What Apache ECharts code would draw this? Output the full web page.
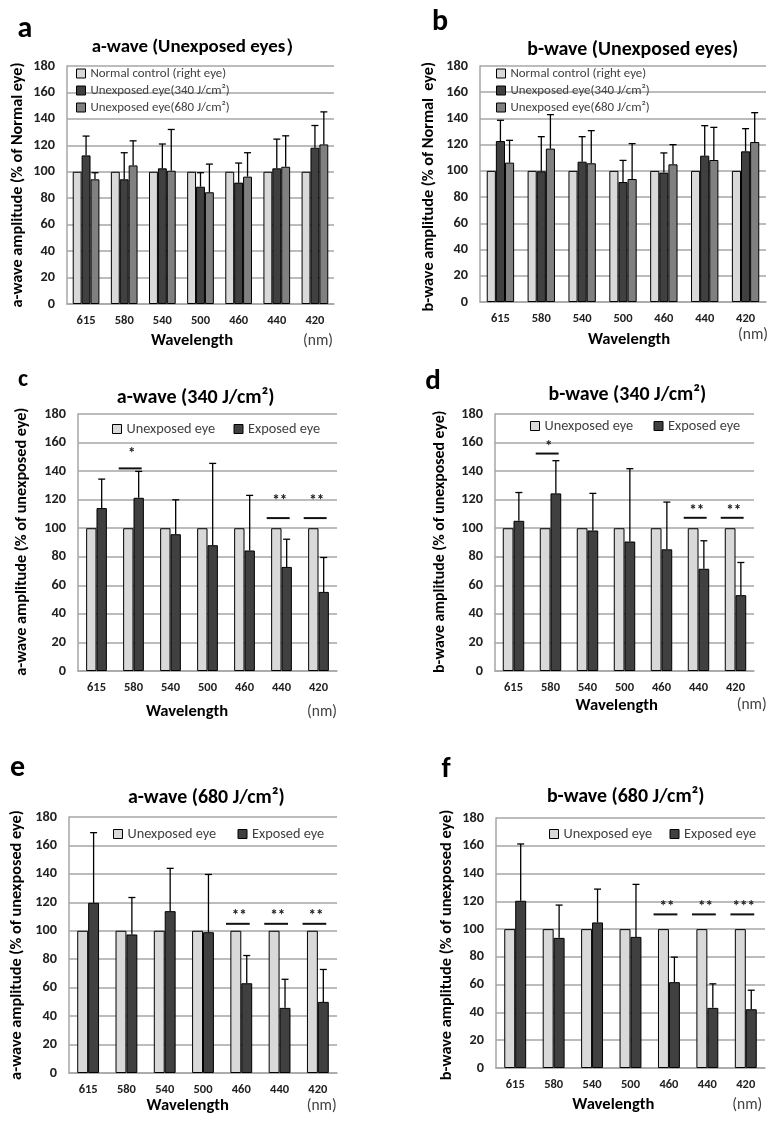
<!DOCTYPE html>
<html><head><meta charset="utf-8">
<script src="https://cdn.jsdelivr.net/npm/echarts@6/dist/echarts.min.js"></script>
<style>html,body{margin:0;padding:0;background:#fff}#c{width:781px;height:1126px}</style>
</head><body><div id="c"></div>
<script>
// ---------- DATA ----------
const categories = ['615','580','540','500','460','440','420'];
const yMin = 0, yMax = 180, yStep = 20;

// panel a : a-wave, unexposed eyes (% of normal eye)
const aNormal   = [100,100,100,100,100,100,100];
const a340      = [112.4, 94.3, 102.6, 88.7, 91.8, 102.6, 118.2];
const a340Sd    = [14.6, 20.1, 18.4, 10.6, 14.8, 22.1, 16.8];
const a680      = [94.3, 104.8, 100.8, 84.5, 96.3, 103.8, 120.7];
const a680Sd    = [5.0, 18.6, 31.2, 21.3, 18.1, 23.4, 24.6];

// panel b : b-wave, unexposed eyes
const bNormal   = [100,100,100,100,100,100,100];
const b340      = [122.8, 99.7, 107.0, 91.5, 98.7, 111.6, 114.9];
const b340Sd    = [15.8, 26.4, 19.1, 16.5, 15.0, 22.9, 17.3];
const b680      = [106.3, 117.0, 105.8, 93.8, 105.0, 108.3, 122.0];
const b680Sd    = [17.0, 25.9, 24.9, 27.0, 15.0, 24.9, 22.4];

// panel c : a-wave 340 J/cm2
const cUnexp    = [100,100,100,100,100,100,100];
const cExp      = [114.1, 121.3, 95.8, 88.1, 84.4, 72.9, 55.4];
const cExpSd    = [20.3, 18.5, 24.1, 57.3, 38.6, 19.4, 24.1];
const cSig      = [[1, 141.9, 152, '*'], [5, 107.1, 118.7, '**'], [6, 107.1, 118.7, '**']];

// panel d : b-wave 340 J/cm2
const dUnexp    = [100,100,100,100,100,100,100];
const dExp      = [105.2, 124.4, 98.4, 90.7, 85.2, 71.6, 53.1];
const dExpSd    = [19.8, 22.9, 26.0, 51.0, 33.1, 19.6, 22.9];
const dSig      = [[1, 152.3, 157, '*'], [5, 107.3, 112, '**'], [6, 107.3, 112, '**']];

// panel e : a-wave 680 J/cm2
const eUnexp    = [100,100,100,100,100,100,100];
const eExp      = [119.7, 97.4, 113.8, 99.0, 63.1, 45.8, 50.0];
const eExpSd    = [49.3, 26.0, 30.1, 40.6, 19.5, 20.1, 22.8];
const eSig      = [[4, 104.9, 110, '**'], [5, 104.9, 110, '**'], [6, 104.9, 110, '**']];

// panel f : b-wave 680 J/cm2
const fUnexp    = [100,100,100,100,100,100,100];
const fExp      = [120.4, 93.7, 104.8, 94.4, 61.8, 43.3, 42.3];
const fExpSd    = [40.9, 23.6, 24.0, 37.8, 18.0, 17.3, 13.7];
const fSig      = [[4, 110.6, 115.6, '**'], [5, 110.6, 115.6, '**'], [6, 110.6, 115.6, '***']];

// ---------- STYLE / LAYOUT ----------
const FONT = 'Carlito, Calibri, Lato, sans-serif';
const GRIDC = '#a6a6a6';
const LIGHT = '#d9d9d9', DARK = '#404040', MID = '#808080';
const N_NORMAL = 'Normal control (right eye)';
const N_340 = 'Unexposed eye(340 J/cm²)';
const N_680 = 'Unexposed eye(680 J/cm²)';
const N_UN = 'Unexposed eye', N_EX = 'Exposed eye';

// font size fitting: size such that text has the given pixel width
const mctx = document.createElement('canvas').getContext('2d');
function textW(text, weight, size) { mctx.font = weight + ' ' + size + 'px ' + FONT; return mctx.measureText(text).width; }
function fit(text, weight, width) { return Math.round(100 * width / textW(text, weight, 100) * 10) / 10; }

const TICKY = fit('180', 'bold', 21.7);
const TICKX = fit('615', 'bold', 19);
const WAVE = fit('Wavelength', 'bold', 82);
const NM = fit('(nm)', 'normal', 30);
const LEG3 = fit(N_NORMAL, 'normal', 136);
const LEG2 = fit(N_UN, 'normal', 89);
const STAR = fit('**', 'bold', 15);

const panels = [
  { grid:{left:67, top:66, width:267, height:238}, gap:0.30,
    series:[{name:N_NORMAL, data:aNormal, color:LIGHT},{name:N_340, data:a340, sd:a340Sd, color:DARK},{name:N_680, data:a680, sd:a680Sd, color:MID}],
    sig:[], legend:{left:76, top:65, orient:'vertical'},
    title:['a-wave (Unexposed eyes）',198,47,213], letter:['a',25,29,30],
    yName:['a-wave amplitude (% of Normal eye)',18,185,245], xName:[192,341], nm:[318,341] },
  { grid:{left:480, top:66, width:286, height:236}, gap:0.33,
    series:[{name:N_NORMAL, data:bNormal, color:LIGHT},{name:N_340, data:b340, sd:b340Sd, color:DARK},{name:N_680, data:b680, sd:b680Sd, color:MID}],
    sig:[], legend:{left:496, top:65, orient:'vertical'},
    title:['b-wave (Unexposed eyes)',632.7,50,211], letter:['b',440,22,30],
    yName:['b-wave amplitude (% of Normal  eye)',429,186.7,250], xName:[629,340], nm:[753,335] },
  { grid:{left:78, top:414, width:259, height:257}, gap:0.44,
    series:[{name:N_UN, data:cUnexp, color:LIGHT},{name:N_EX, data:cExp, sd:cExpSd, color:DARK}],
    sig:cSig, legend:{left:112, top:421, orient:'horizontal', second:233},
    title:['a-wave (340 J/cm²)',195.7,398,158], letter:['c',23,380,24],
    yName:['a-wave amplitude (% of unexposed eye)',22,541.7,268], xName:[187,711.7], nm:[322,712] },
  { grid:{left:495, top:414, width:259, height:257}, gap:0.42,
    series:[{name:N_UN, data:dUnexp, color:LIGHT},{name:N_EX, data:dExp, sd:dExpSd, color:DARK}],
    sig:dSig, legend:{left:530, top:418, orient:'horizontal', second:653},
    title:['b-wave (340 J/cm²)',627.3,395,158], letter:['d',433,382,29],
    yName:['b-wave amplitude (% of unexposed eye)',440,541.7,262], xName:[616.7,705.7], nm:[751.7,705] },
  { grid:{left:69, top:817, width:268, height:256}, gap:0.43,
    series:[{name:N_UN, data:eUnexp, color:LIGHT},{name:N_EX, data:eExp, sd:eExpSd, color:DARK}],
    sig:eSig, legend:{left:113, top:826, orient:'horizontal', second:237},
    title:['a-wave (680 J/cm²)',206.3,797.7,157], letter:['e',17.5,768,30],
    yName:['a-wave amplitude (% of unexposed eye)',17.3,945,270], xName:[187.7,1105.7], nm:[321.7,1105.7] },
  { grid:{left:496, top:818, width:269, height:250}, gap:0.43,
    series:[{name:N_UN, data:fUnexp, color:LIGHT},{name:N_EX, data:fExp, sd:fExpSd, color:DARK}],
    sig:fSig, legend:{left:549, top:826, orient:'horizontal', second:669},
    title:['b-wave (680 J/cm²)',625.7,796.7,158], letter:['f',446,770,29],
    yName:['b-wave amplitude (% of unexposed eye)',446.7,945,270], xName:[613.3,1105], nm:[747.3,1105] }
];

function txt(text, x, y, font, color, rot) {
  return { type:'text', x:x, y:y, rotation: rot || 0, silent:true,
    style:{ text:text, font:font, fill:color || '#000', align:'center', verticalAlign:'middle',
            textAlign:'center', textVerticalAlign:'middle' } };
}

const option = { animation:false, backgroundColor:'#fff', grid:[], xAxis:[], yAxis:[], series:[], legend:[], graphic:[] };

panels.forEach((p, i) => {
  option.grid.push(Object.assign({containLabel:false}, p.grid));
  option.xAxis.push({ type:'category', gridIndex:i, data:categories,
    axisLine:{lineStyle:{color:GRIDC, width:1.5}}, axisTick:{show:false},
    axisLabel:{fontFamily:FONT, fontWeight:'bold', fontSize:TICKX, color:'#222', margin:10} });
  option.yAxis.push({ type:'value', gridIndex:i, min:yMin, max:yMax, interval:yStep,
    axisLine:{show:true, lineStyle:{color:GRIDC, width:1.5}}, axisTick:{show:false},
    splitLine:{lineStyle:{color:GRIDC, width:1.5}},
    axisLabel:{fontFamily:FONT, fontWeight:'bold', fontSize:TICKY, color:'#222', margin:12} });
  const n = p.series.length, gap = p.gap;
  p.series.forEach((s, j) => {
    option.series.push({ type:'bar', name:s.name, xAxisIndex:i, yAxisIndex:i, data:s.data,
      barGap:'0%', barCategoryGap:(gap*100)+'%',
      itemStyle:{color:s.color, borderColor:'#000', borderWidth:1}, emphasis:{disabled:true}, z:2 });
    if (s.sd) {
      option.series.push({ type:'custom', xAxisIndex:i, yAxisIndex:i, z:5, silent:true,
        encode:{x:0, y:1},
        data: s.sd.map((d,k) => [k, s.data[k], d]),
        renderItem: (params, api) => {
          const k = api.value(0), v = api.value(1), sd = api.value(2);
          const band = api.size([1,0])[0];
          const group = band*(1-gap), bw = group/n;
          const off = -group/2 + bw*(j+0.5);
          const p0 = api.coord([k, v]), p1 = api.coord([k, v+sd]);
          const x = p0[0] + off;
          const st = {stroke:'#000', lineWidth:1.3};
          return { type:'group', children:[
            {type:'line', shape:{x1:x, y1:p0[1], x2:x, y2:p1[1]}, style:st},
            {type:'line', shape:{x1:x-3.5, y1:p1[1], x2:x+3.5, y2:p1[1]}, style:st} ] };
        } });
    }
  });
  if (p.sig.length) {
    const sig = p.sig;
    option.series.push({ type:'custom', xAxisIndex:i, yAxisIndex:i, z:6, silent:true,
      encode:{x:0, y:1},
      data: sig.map(s => [s[0], s[1], s[2]]),
      renderItem: (params, api) => {
        const k = api.value(0), ly = api.value(1), sy = api.value(2);
        const band = api.size([1,0])[0];
        const pl = api.coord([k, ly]), ps = api.coord([k, sy]);
        return { type:'group', children:[
          {type:'line', shape:{x1:pl[0]-0.4*band, y1:pl[1], x2:pl[0]+0.22*band, y2:pl[1]}, style:{stroke:'#111', lineWidth:2}},
          {type:'text', x:ps[0]-0.05*band, y:ps[1],
            style:{text:sig[params.dataIndex][3], font:'bold '+STAR+'px '+FONT, fill:'#222', align:'center', verticalAlign:'middle'}} ] };
      } });
  }
  const vertical = p.legend.orient === 'vertical';
  const lfs = vertical ? LEG3 : LEG2;
  const lgap = vertical ? 0 : Math.max(2, p.legend.second - (p.legend.left + 9 + 5 + textW(N_UN, 'normal', lfs)));
  option.legend.push({ left:p.legend.left, top:p.legend.top, orient:p.legend.orient,
    itemGap:lgap, itemWidth:9, itemHeight:9, icon:'rect', selectedMode:false, padding:0,
    textStyle:{fontFamily:FONT, fontSize:lfs, lineHeight: vertical ? 17 : 16, color:'#404040'},
    data: p.series.map(s => ({name:s.name, icon:'rect', itemStyle:{color:s.color, borderColor:'#000', borderWidth:1}})) });
  option.graphic.push(txt(p.title[0], p.title[1], p.title[2], 'bold '+fit(p.title[0],'bold',p.title[3])+'px '+FONT));
  option.graphic.push(txt(p.letter[0], p.letter[1], p.letter[2], 'bold '+p.letter[3]+'px '+FONT));
  option.graphic.push(txt(p.yName[0], p.yName[1], p.yName[2], 'bold '+fit(p.yName[0],'bold',p.yName[3])+'px '+FONT, '#000', Math.PI/2));
  option.graphic.push(txt('Wavelength', p.xName[0], p.xName[1], 'bold '+WAVE+'px '+FONT));
  option.graphic.push(txt('(nm)', p.nm[0], p.nm[1], NM+'px '+FONT, '#404040'));
});

const chart = echarts.init(document.getElementById('c'), null, {renderer:'canvas'});
chart.setOption(option);
</script>
</body></html>
